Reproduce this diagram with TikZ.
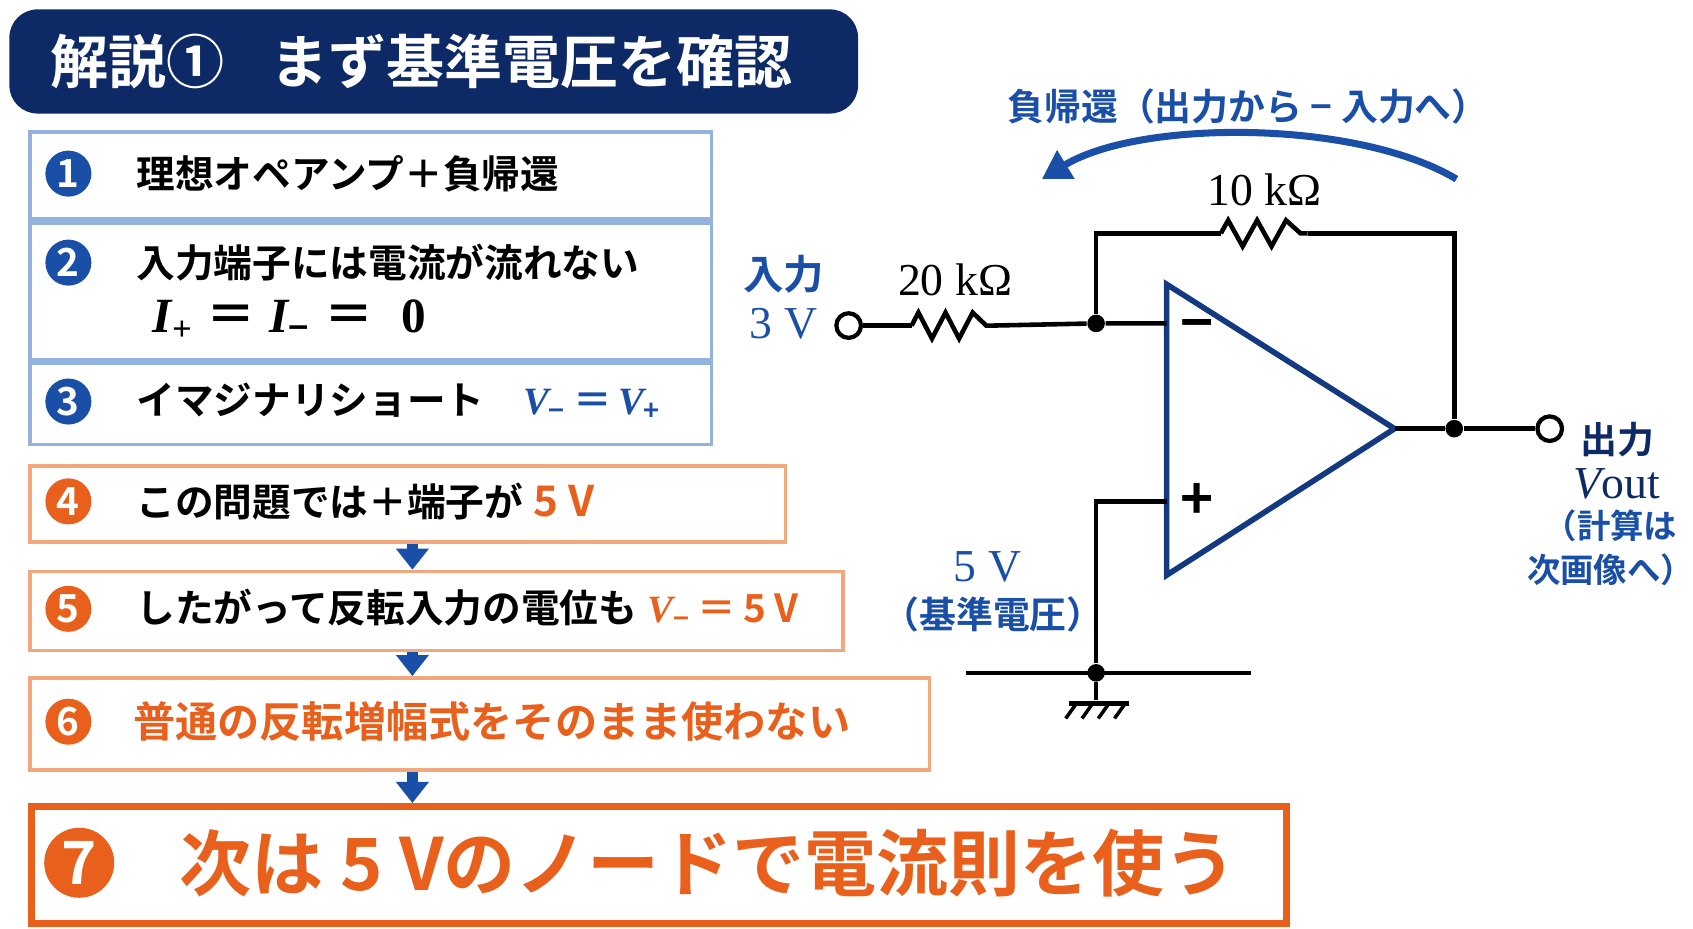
\documentclass[tikz,border=0pt]{standalone}
\usepackage{fontspec}
\setmainfont{Noto Sans CJK JP}[BoldFont={Noto Sans CJK JP Bold}]
\newfontfamily\serifmath{Liberation Serif}
\usetikzlibrary{arrows.meta,calc}
\definecolor{navy}{HTML}{0E2A66}
\definecolor{deepblue}{HTML}{1A4FA8}
\definecolor{fireorange}{HTML}{E8601C}
\definecolor{paleblue}{HTML}{93B2DD}
\definecolor{paleorange}{HTML}{F2A77E}

\tikzstyle{bluebox} = [draw=paleblue, line width=1pt, anchor=north west, inner sep=0pt]
\tikzstyle{orangebox} = [draw=paleorange, line width=1pt, anchor=north west, inner sep=0pt]
\tikzstyle{item} = [anchor=west, font=\bfseries\fontsize{11}{11}\selectfont, inner sep=0pt]
\tikzstyle{bluenum} = [circle, fill=deepblue, text=white, minimum size=0.46cm, inner sep=0pt, font=\bfseries\fontsize{11}{11}\selectfont]
\tikzstyle{orangenum} = [bluenum, fill=fireorange]
\tikzstyle{downarrow} = [-{Triangle[width=9pt,length=6pt]}, deepblue, line width=3pt]
\tikzstyle{wire} = [line width=1.3pt, black]
\tikzstyle{dot} = [circle, fill=black, minimum size=5pt, inner sep=0pt]
\tikzstyle{terminal} = [circle, draw=black, fill=white, line width=1.2pt, minimum size=7pt, inner sep=0pt]
\newcommand{\mth}[1]{{\serifmath\itshape #1}}
\newcommand{\zigzag}[3]{% x0, x1, y
  \draw[wire] (#1,#3) \foreach \k in {1,...,5}{ -- ({#1+(#2-#1)*(\k*2-1)/12},{#3+(mod(\k,2)*2-1)*-12}) } -- ({#1+(#2-#1)*11/12},#3) -- (#2,#3);}

\begin{document}
\begin{tikzpicture}[x=0.01085cm, y=-0.01085cm]
	\useasboundingbox (0,0) rectangle (1560,856);
	% Title
	\node [fill=navy, rounded corners=8pt, anchor=north west, minimum width=782*0.01085cm, minimum height=96*0.01085cm] (title) at (8,8) {};
	\node [anchor=west, text=white, font=\bfseries\fontsize{16.5}{16.5}\selectfont] (titletext) at (35,57) {解説①\hspace{0.8em}まず基準電圧を確認};
	% Step boxes
	\node [bluebox, minimum width=628*0.01085cm, minimum height=80*0.01085cm] (b1) at (26,120) {};
	\node [bluenum] (n1) at (63,160) {1};
	\node [item] (t1) at (125,160) {理想オペアンプ＋負帰還};
	\node [bluebox, minimum width=628*0.01085cm, minimum height=126*0.01085cm] (b2) at (26,204) {};
	\node [bluenum] (n2) at (63,242) {2};
	\node [item] (t2) at (125,242) {入力端子には電流が流れない};
	\node [item, font=\bfseries\fontsize{14}{14}\selectfont] (t2b) at (140,295) {\mth{I}\textsubscript{\mth{+}}\;＝\;\mth{I}\textsubscript{−}\;＝\;\;{\serifmath 0}};
	\node [bluebox, minimum width=628*0.01085cm, minimum height=75*0.01085cm] (b3) at (26,333) {};
	\node [bluenum] (n3) at (63,370) {3};
	\node [item] (t3) at (125,370) {イマジナリショート\quad\textcolor{deepblue}{\mth{V}\textsubscript{−}\,＝\,\mth{V}\textsubscript{+}}};
	\node [orangebox, minimum width=696*0.01085cm, minimum height=70*0.01085cm] (b4) at (26,428) {};
	\node [orangenum] (n4) at (63,462) {4};
	\node [item] (t4) at (125,462) {この問題では＋端子が\;\textcolor{fireorange}{\fontsize{12}{12}\selectfont 5 V}};
	\node [orangebox, minimum width=749*0.01085cm, minimum height=73*0.01085cm] (b5) at (26,525) {};
	\node [orangenum] (n5) at (63,561) {5};
	\node [item] (t5) at (125,561) {したがって反転入力の電位も\;\textcolor{fireorange}{\mth{V}\textsubscript{−}\,＝\,5 V}};
	\node [orangebox, minimum width=829*0.01085cm, minimum height=85*0.01085cm] (b6) at (26,623) {};
	\node [orangenum] (n6) at (63,665) {6};
	\node [item, text=fireorange, font=\bfseries\fontsize{12}{12}\selectfont] (t6) at (122,665) {普通の反転増幅式をそのまま使わない};
	\node [orangebox, draw=fireorange, line width=2pt, minimum width=1156*0.01085cm, minimum height=108*0.01085cm] (b7) at (26,740) {};
	\node [orangenum, minimum size=0.7cm, font=\bfseries\fontsize{17}{17}\selectfont] (n7) at (73,795) {7};
	\node [item, text=fireorange, font=\bfseries\fontsize{20.5}{20.5}\selectfont] (t7) at (165,795) {次は 5 Vのノードで電流則を使う};
	% Down arrows
	\coordinate (arrx) at (380,0);
	\draw [downarrow] (b4.south -| arrx) -- (b5.north -| arrx);
	\draw [downarrow] (b5.south -| arrx) -- (b6.north -| arrx);
	\draw [downarrow] (b6.south -| arrx) -- (b7.north -| arrx);
	% Op-amp
	\draw [line width=1.6pt, deepblue!40!navy] (1075,262) -- (1075,530) -- (1285,395) -- cycle;
	\node [font=\bfseries\fontsize{16}{16}\selectfont] (minus) at (1103,305) {−};
	\node [font=\bfseries\fontsize{16}{16}\selectfont] (plus) at (1103,462) {+};
	\coordinate (inm) at (1075,298);
	\coordinate (inp) at (1075,462);
	\coordinate (outp) at (1285,395);
	\node [terminal] (vin) at (782,300) {};
	\node [dot] (nodeA) at (1010,298) {};
	\node [dot] (nodeB) at (1340,395) {};
	\node [dot] (nodeG) at (1010,620) {};
	\node [terminal] (vout) at (1428,395) {};
	% Wires
	\draw [wire] (vin) -- (840,300);
	\zigzag{840}{915}{300}
	\draw [wire] (915,300) -- (nodeA) -- (inm);
	\draw [wire] (nodeA) -- (1010,215) -- (1125,215);
	\zigzag{1125}{1205}{215}
	\draw [wire] (1205,215) -- (1340,215) -- (nodeB);
	\draw [wire] (outp) -- (nodeB) -- (vout);
	\draw [wire] (inp) -- (1010,462) -- (nodeG);
	\draw [wire] (890,620) -- (1153,620);
	\draw [wire] (nodeG) -- (1010,645);
	\draw [wire] (985,648) -- (1040,648);
	\foreach \gx in {992,1007,1022,1037} \draw [wire, line width=1pt] (\gx,648) -- (\gx-10,662);
	% Labels
	\node [font=\serifmath\fontsize{13}{13}\selectfont] (r1lab) at (880,258) {20 kΩ};
	\node [font=\serifmath\fontsize{13}{13}\selectfont] (r2lab) at (1165,175) {10 kΩ};
	\node [text=deepblue, font=\bfseries\fontsize{11.5}{11.5}\selectfont] (inlab) at (722,253) {入力};
	\node [text=deepblue, font=\serifmath\fontsize{13}{13}\selectfont] (invlab) at (722,298) {3 V};
	\node [text=deepblue, font=\serifmath\fontsize{13}{13}\selectfont] (reflab) at (910,522) {5 V};
	\node [text=deepblue, font=\bfseries\fontsize{10.5}{10.5}\selectfont] (refnote) at (915,566) {（基準電圧）};
	\node [text=navy, font=\bfseries\fontsize{10.5}{10.5}\selectfont] (outlab) at (1490,405) {出力};
	\node [text=navy, font=\serifmath\fontsize{13}{13}\selectfont] (voutlab) at (1490,446) {\itshape V\upshape out};
	\node [text=deepblue, font=\bfseries\fontsize{9.5}{12.5}\selectfont, align=center] (outnote) at (1484,505) {（計算は\\次画像へ）};
	% Feedback arc
	\coordinate (fbR) at (1342,165);
	\coordinate (fbL) at (960,165);
	\draw [-{Triangle[width=9pt,length=8pt]}, deepblue, line width=2pt] (fbR) .. controls (1250,110) and (1050,110) .. (fbL);
	\node [text=deepblue, font=\bfseries\fontsize{10.5}{10.5}\selectfont] (fblab) at (1150,98) {負帰還（出力から − 入力へ）};
\end{tikzpicture}
\end{document}
